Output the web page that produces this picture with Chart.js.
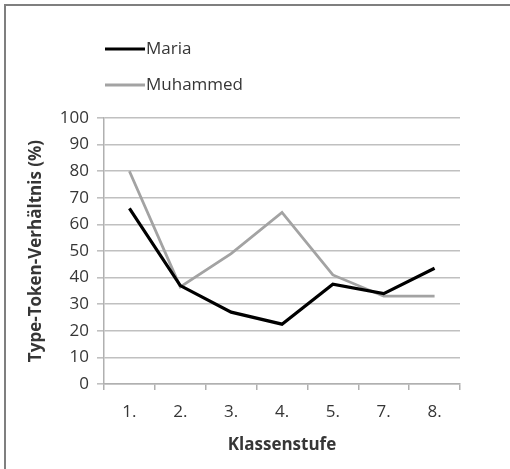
<!DOCTYPE html>
<html>
<head>
<meta charset="utf-8">
<script src="https://cdn.jsdelivr.net/npm/chart.js@4"></script>
<style>
html,body{margin:0;padding:0;background:#fff;}
#wrap{position:relative;width:510px;height:469px;}
</style>
</head>
<body>
<div id="wrap"><canvas id="c" width="510" height="469"></canvas></div>
<script>
const categories = ['1.', '2.', '3.', '4.', '5.', '7.', '8.'];
const maria = [66, 37, 27, 22.5, 37.5, 34, 43.5];
const muhammed = [80, 36.5, 49, 64.5, 41, 33, 33];
const yTicks = [0, 10, 20, 30, 40, 50, 60, 70, 80, 90, 100];
const seriesNames = ['Maria', 'Muhammed'];

const FONT = "'Open Sans', 'Liberation Sans', sans-serif";
const TXT = '#363636';

const framePlugin = {
  id: 'frame',
  afterDraw(chart) {
    const ctx = chart.ctx;
    ctx.save();
    ctx.fillStyle = '#7f7f7f';
    ctx.fillRect(4, 4, 506, 2);
    ctx.fillRect(4, 4, 2, 465);
    ctx.restore();
  }
};

const legendPlugin = {
  id: 'vlegend',
  afterDraw(chart) {
    const ctx = chart.ctx;
    ctx.save();
    const x0 = 105, x1 = 145, ys = [49, 85];
    chart.data.datasets.forEach((ds, i) => {
      ctx.strokeStyle = ds.borderColor;
      ctx.lineWidth = ds.borderWidth;
      ctx.beginPath();
      ctx.moveTo(x0, ys[i]);
      ctx.lineTo(x1, ys[i]);
      ctx.stroke();
      ctx.fillStyle = TXT;
      ctx.font = '17px ' + FONT;
      ctx.textBaseline = 'middle';
      ctx.textAlign = 'left';
      ctx.fillText(ds.label, x1 + 1, ys[i]);
    });
    ctx.restore();
  }
};

new Chart(document.getElementById('c'), {
  type: 'line',
  data: {
    labels: categories,
    datasets: [
      { label: seriesNames[0], data: maria, borderColor: '#000000', borderWidth: 3.2, pointRadius: 0, tension: 0, fill: false },
      { label: seriesNames[1], data: muhammed, borderColor: '#a3a3a3', borderWidth: 2.8, pointRadius: 0, tension: 0, fill: false }
    ]
  },
  options: {
    responsive: false,
    animation: false,
    devicePixelRatio: 1,
    layout: { padding: { left: 24, right: 50, top: 118, bottom: 14 } },
    plugins: { legend: { display: false }, tooltip: { enabled: false } },
    scales: {
      x: {
        offset: true,
        grid: { display: true, drawOnChartArea: false, drawTicks: true, tickLength: 6, color: '#b0b0b0', lineWidth: 1.5, offset: true },
        border: { display: true, color: '#b0b0b0', width: 1.5 },
        ticks: { color: TXT, font: { family: FONT, size: 17 }, padding: 12, maxRotation: 0 },
        title: { display: true, text: 'Klassenstufe', color: TXT, font: { family: FONT, size: 17, weight: 'bold' }, padding: { top: 10, bottom: 0 } },
        afterFit(s) { s.height = 71; }
      },
      y: {
        min: 0, max: 100,
        afterBuildTicks(s) { s.ticks = yTicks.map(v => ({ value: v })); },
        grid: { color: '#c0c0c0', lineWidth: 1.6, drawTicks: true, tickLength: 7 },
        border: { display: true, color: '#b0b0b0', width: 1.5 },
        ticks: { color: TXT, font: { family: FONT, size: 17 }, padding: 8 },
        title: { display: true, text: 'Type-Token-Verhältnis (%)', color: TXT, font: { family: FONT, size: 17, weight: 'bold' }, padding: { top: 2, bottom: 4 } },
        afterFit(s) { s.width = 80; }
      }
    }
  },
  plugins: [framePlugin, legendPlugin]
});
</script>
</body>
</html>
